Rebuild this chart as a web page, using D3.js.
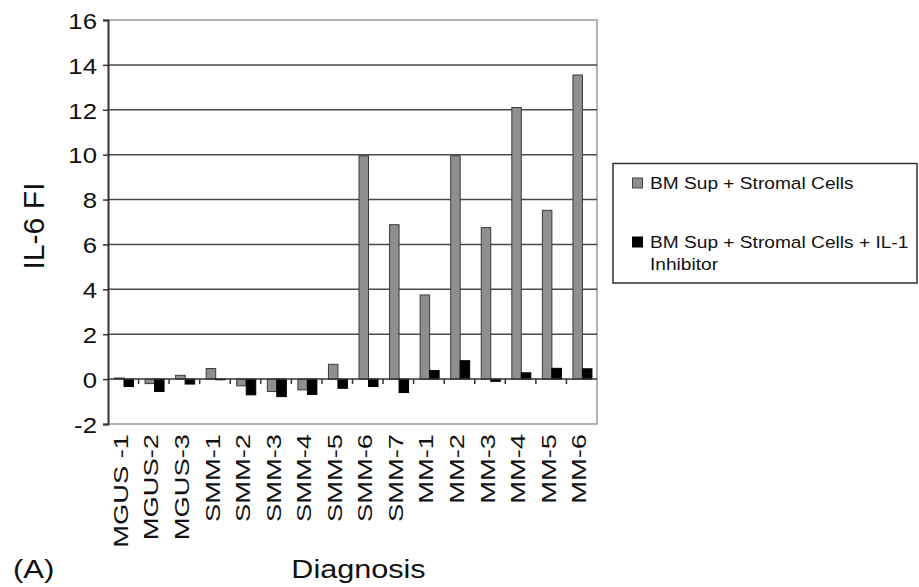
<!DOCTYPE html>
<html>
<head>
<meta charset="utf-8">
<script src="https://cdn.jsdelivr.net/npm/d3@7"></script>
<style>
  html, body { margin: 0; padding: 0; background: #fff; }
  svg { display: block; font-family: "Liberation Sans", Arial, sans-serif; }
</style>
</head>
<body>
<svg id="chart" width="919" height="587"></svg>
<script>
const categories = ["MGUS -1","MGUS-2","MGUS-3","SMM-1","SMM-2","SMM-3","SMM-4","SMM-5","SMM-6","SMM-7","MM-1","MM-2","MM-3","MM-4","MM-5","MM-6"];
const seriesNames = ["BM Sup + Stromal Cells", "BM Sup + Stromal Cells + IL-1 Inhibitor"];
const stromalValues = [0.05, -0.2, 0.17, 0.47, -0.3, -0.55, -0.48, 0.66, 9.95, 6.88, 3.75, 9.95, 6.75, 12.1, 7.52, 13.55];
const inhibitorValues = [-0.33, -0.55, -0.22, -0.03, -0.7, -0.78, -0.68, -0.41, -0.33, -0.6, 0.38, 0.82, -0.1, 0.28, 0.48, 0.46];
const yTicks = [-2, 0, 2, 4, 6, 8, 10, 12, 14, 16];
const yTitle = "IL-6 FI";
const xTitle = "Diagnosis";
const panelLabel = "(A)";
const seriesColors = ["#8f8f8f", "#000000"];

(function () {
const svg = d3.select("#chart");
const pLeft = 108, pRight = 597, pTop = 20, pBottom = 424;

const x = d3.scaleBand().domain(categories).range([pLeft, pRight]).padding(0);
const x1 = d3.scaleBand().domain([0, 1]).range([6.5, 25.5]).padding(0);
const y = d3.scaleLinear().domain([-2, 16]).range([pBottom, pTop]);

// frame (light gray) top, right, bottom
svg.append("path")
  .attr("d", `M${pLeft},${y(16)}H${pRight}V${y(-2)}H${pLeft}`)
  .attr("fill", "none").attr("stroke", "#9a9a9a").attr("stroke-width", 1.5);

// gridlines
svg.append("g").selectAll("line")
  .data(yTicks.filter(d => d > 0 && d < 16))
  .join("line")
  .attr("x1", pLeft).attr("x2", pRight)
  .attr("y1", d => y(d)).attr("y2", d => y(d))
  .attr("stroke", "#4a4a4a").attr("stroke-width", 1.5);

// bars
const series = [stromalValues, inhibitorValues];
series.forEach((vals, si) => {
  svg.append("g").selectAll("rect")
    .data(vals)
    .join("rect")
    .attr("x", (d, i) => x(categories[i]) + x1(si))
    .attr("width", x1.bandwidth())
    .attr("y", d => Math.min(y(d), y(0)))
    .attr("height", d => Math.abs(y(d) - y(0)))
    .attr("fill", seriesColors[si])
    .attr("stroke", si === 0 ? "#3a3a3a" : "#000")
    .attr("stroke-width", 1);
});

// baseline at 0 with category boundary ticks
svg.append("line")
  .attr("x1", pLeft).attr("x2", pRight)
  .attr("y1", y(0)).attr("y2", y(0))
  .attr("stroke", "#333").attr("stroke-width", 1.5);
svg.append("g").selectAll("line")
  .data(categories.slice(1))
  .join("line")
  .attr("x1", d => x(d)).attr("x2", d => x(d))
  .attr("y1", y(0)).attr("y2", y(0) + 5)
  .attr("stroke", "#333").attr("stroke-width", 1.5);

// y axis
const yAxis = svg.append("g")
  .attr("transform", `translate(${pLeft},0)`)
  .call(d3.axisLeft(y).tickValues(yTicks).tickSize(5).tickFormat(d => String(d)));
yAxis.select(".domain").attr("stroke", "#333").attr("stroke-width", 2);
yAxis.selectAll(".tick line").attr("stroke", "#333").attr("stroke-width", 1.5);
yAxis.selectAll(".tick text")
  .attr("font-size", 23)
  .attr("font-family", "Liberation Sans, Arial, sans-serif")
  .attr("fill", "#111")
  .attr("x", null).attr("dy", "0.36em")
  .attr("transform", "translate(-11,0) scale(1.12,1)");

// x labels
svg.append("g").selectAll("text")
  .data(categories)
  .join("text")
  .attr("transform", d => `translate(${x(d) + x.bandwidth() / 2 - 3},434) rotate(-90) scale(1.3,1)`)
  .attr("text-anchor", "end")
  .attr("dy", "0.36em")
  .attr("font-size", 21)
  .attr("fill", "#111")
  .text(d => d);

// y title
svg.append("text")
  .attr("transform", "translate(43.5,226) rotate(-90) scale(1.04,1)")
  .attr("text-anchor", "middle")
  .attr("font-size", 29)
  .attr("fill", "#111")
  .text(yTitle);

// x title
svg.append("text")
  .attr("transform", "translate(358.5,578) scale(1.2,1)")
  .attr("text-anchor", "middle")
  .attr("font-size", 25.5)
  .attr("fill", "#111")
  .text(xTitle);

// panel label
svg.append("text")
  .attr("transform", "translate(13,578) scale(1.22,1)")
  .attr("font-size", 25.5)
  .attr("fill", "#111")
  .text(panelLabel);

// legend
const lg = svg.append("g");
lg.append("rect")
  .attr("x", 613).attr("y", 163.5).attr("width", 304).attr("height", 119.5)
  .attr("fill", "#fff").attr("stroke", "#333").attr("stroke-width", 1.5);
const legendY = [183, 242];
seriesNames.forEach((name, i) => {
  lg.append("rect")
    .attr("x", 632.5).attr("y", legendY[i] - 5).attr("width", 10).attr("height", 10)
    .attr("fill", seriesColors[i]).attr("stroke", i === 0 ? "#444" : "#000").attr("stroke-width", 1);
});
const legendLines = [["BM Sup + Stromal Cells"], ["BM Sup + Stromal Cells + IL-1", "Inhibitor"]];
legendLines.forEach((lines, i) => {
  lines.forEach((t, j) => {
    lg.append("text")
      .attr("transform", `translate(650,${legendY[i] + 5.5 + j * 22}) scale(1.16,1)`)
      .attr("font-size", 16.5)
      .attr("fill", "#111")
      .text(t);
  });
});
})();
</script>
</body>
</html>
